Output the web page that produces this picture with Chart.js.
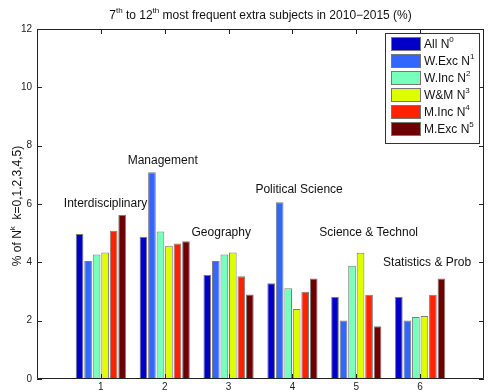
<!DOCTYPE html>
<html>
<head>
<meta charset="utf-8">
<script src="https://cdn.jsdelivr.net/npm/chart.js@4/dist/chart.umd.min.js"></script>
<style>
  html, body { margin: 0; padding: 0; background: #fff; }
  #wrap { width: 491px; height: 392px; }
</style>
</head>
<body>
<div id="wrap"><canvas id="chart" width="491" height="392"></canvas></div>
<script>
// --- data ---
const groups = [1, 2, 3, 4, 5, 6];
const subjects = ['Interdisciplinary', 'Management', 'Geography', 'Political Science', 'Science & Technol', 'Statistics & Prob'];
const subjectLabelY = [6.0, 7.5, 5.0, 6.5, 5.0, 4.0];

const seriesNames = ['All', 'W.Exc', 'W.Inc', 'W&M', 'M.Inc', 'M.Exc'];
const allN0  = [4.97, 4.88, 3.57, 3.28, 2.81, 2.81];
const wExcN1 = [4.05, 7.09, 4.05, 6.06, 2.01, 2.01];
const wIncN2 = [4.27, 5.06, 4.27, 3.11, 3.88, 2.13];
const wmN3   = [4.34, 4.57, 4.34, 2.40, 4.33, 2.16];
const mIncN4 = [5.08, 4.65, 3.52, 2.99, 2.89, 2.89];
const mExcN5 = [5.63, 4.72, 2.90, 3.45, 1.81, 3.45];

const yTicks = [0, 2, 4, 6, 8, 10, 12];

const series = [allN0, wExcN1, wIncN2, wmN3, mIncN4, mExcN5];
const colors = ['#0000c8', '#3366ff', '#77ffbb', '#ddff00', '#ff2200', '#700000'];
const FONT = '"Liberation Sans", Arial, sans-serif';

// draw text with superscript parts: parts = [[text, isSup], ...]
function richWidth(ctx, parts, size) {
    let w = 0;
    parts.forEach(([t, sup]) => {
        ctx.font = (sup ? Math.round(size * 0.7) : size) + 'px ' + FONT;
        w += ctx.measureText(t).width;
    });
    return w;
}
function drawRich(ctx, parts, x, y, size, align) {
    let w = richWidth(ctx, parts, size);
    let cx = align === 'center' ? x - w / 2 : x;
    ctx.textBaseline = 'middle';
    ctx.textAlign = 'left';
    parts.forEach(([t, sup]) => {
        ctx.font = (sup ? Math.round(size * 0.7) : size) + 'px ' + FONT;
        ctx.fillText(t, cx, sup ? y - size * 0.4 : y);
        cx += ctx.measureText(t).width;
    });
}

const decorPlugin = {
    id: 'decor',
    afterDatasetsDraw(chart) {
        const ctx = chart.ctx;
        const a = chart.chartArea;
        const xs = chart.scales.x, ys = chart.scales.y;
        ctx.save();

        // subject labels above groups
        ctx.fillStyle = '#111';
        subjects.forEach((s, i) => {
            drawRich(ctx, [[s, false]], xs.getPixelForValue(groups[i] - 0.58), ys.getPixelForValue(subjectLabelY[i]), 12, 'left');
        });

        // axes box + inward ticks
        ctx.strokeStyle = '#222';
        ctx.lineWidth = 1;
        ctx.beginPath();
        ctx.rect(Math.round(a.left) + 0.5, Math.round(a.top) + 0.5, Math.round(a.width) - 1, Math.round(a.height) - 1);
        yTicks.forEach(v => {
            const py = Math.round(ys.getPixelForValue(v)) + 0.5;
            ctx.moveTo(a.left, py); ctx.lineTo(a.left + 5, py);
            ctx.moveTo(a.right, py); ctx.lineTo(a.right - 5, py);
        });
        groups.forEach(g => {
            const px = Math.round(xs.getPixelForValue(g)) + 0.5;
            ctx.moveTo(px, a.bottom); ctx.lineTo(px, a.bottom - 5);
            ctx.moveTo(px, a.top); ctx.lineTo(px, a.top + 5);
        });
        ctx.stroke();

        // legend box, top right inside axes
        const lx = 385, ly = 33, lw = 94, lh = 110;
        ctx.fillStyle = '#fff';
        ctx.fillRect(lx, ly, lw, lh);
        ctx.strokeStyle = '#333';
        ctx.strokeRect(lx + 0.5, ly + 0.5, lw, lh);
        seriesNames.forEach((n, i) => {
            const ry = ly + 4 + i * 17;
            ctx.fillStyle = colors[i];
            ctx.fillRect(lx + 6, ry, 30, 14);
            ctx.strokeStyle = '#777';
            ctx.strokeRect(lx + 6.5, ry + 0.5, 29, 13);
            ctx.fillStyle = '#111';
            drawRich(ctx, [[n + ' N', false], [String(i), true]], lx + 39, ry + 8, 12, 'left');
        });

        // title
        ctx.fillStyle = '#111';
        drawRich(ctx, [['7', false], ['th', true], [' to 12', false], ['th', true],
            [' most frequent extra subjects in 2010\u22122015 (%)', false]],
            (a.left + a.right) / 2, 16, 12, 'center');

        // y axis title
        ctx.translate(18, (a.top + a.bottom) / 2 + 2);
        ctx.rotate(-Math.PI / 2);
        drawRich(ctx, [['% of N', false], ['k', true], ['  k=0,1,2,3,4,5)', false]], 0, 0, 12, 'center');
        ctx.restore();
    }
};

new Chart(document.getElementById('chart'), {
    type: 'bar',
    data: {
        datasets: series.map((vals, i) => ({
            label: seriesNames[i],
            data: vals.map((v, j) => ({ x: groups[j], y: v })),
            backgroundColor: colors[i],
            borderColor: 'rgba(110,110,110,0.9)',
            borderWidth: 1,
            categoryPercentage: 0.8,
            barPercentage: 0.9
        }))
    },
    options: {
        responsive: false,
        animation: false,
        devicePixelRatio: 1,
        layout: { padding: { top: 29, right: 7, left: 0, bottom: 0 } },
        plugins: { legend: { display: false }, title: { display: false }, tooltip: { enabled: false } },
        scales: {
            x: {
                type: 'linear',
                offset: false,
                min: 0, max: 7,
                grid: { display: false, drawTicks: false },
                border: { display: false },
                afterFit: s => { s.height = 13; },
                afterBuildTicks: s => { s.ticks = groups.map(v => ({ value: v })); },
                ticks: { padding: 2, color: '#222', font: { family: FONT, size: 10 } }
            },
            y: {
                min: 0, max: 12,
                grid: { display: false, drawTicks: false },
                border: { display: false },
                afterFit: s => { s.width = 37; },
                afterBuildTicks: s => { s.ticks = yTicks.map(v => ({ value: v })); },
                ticks: { padding: 5, color: '#222', font: { family: FONT, size: 10 } }
            }
        }
    },
    plugins: [decorPlugin]
});
</script>
</body>
</html>
